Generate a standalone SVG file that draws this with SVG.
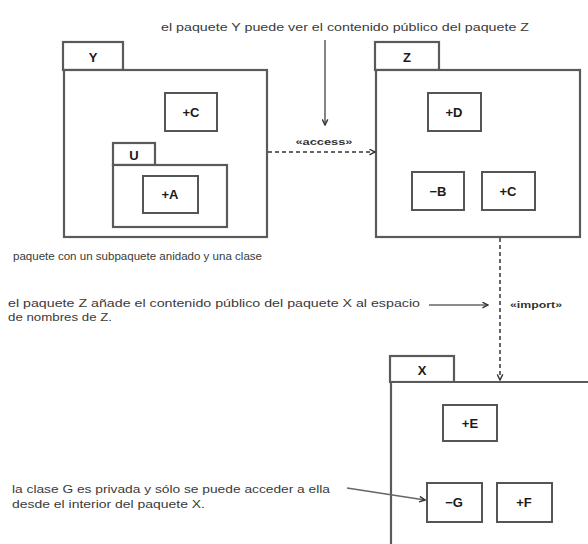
<svg xmlns="http://www.w3.org/2000/svg" width="588" height="544" viewBox="0 0 588 544">
  <defs>
    <marker id="open" viewBox="0 0 10 10" refX="9" refY="5" markerWidth="7" markerHeight="7" orient="auto" markerUnits="userSpaceOnUse">
      <path d="M1,1 L9,5 L1,9" fill="none" stroke="#333" stroke-width="2"/>
    </marker>
  </defs>
  <style>
    .pkg { fill: #fff; stroke: #5a5a5a; stroke-width: 2.2; }
    .cls { fill: #fff; stroke: #555; stroke-width: 2; }
    .name { font-family: "Liberation Sans", Arial, sans-serif; font-size: 13px; font-weight: bold; fill: #1a1a1a; text-anchor: middle; }
    .note { font-family: "Liberation Sans", Arial, sans-serif; font-size: 10.5px; fill: #3a3a3a; }
    .stereo { font-family: "Liberation Sans", Arial, sans-serif; font-size: 9px; font-weight: bold; fill: #333; text-anchor: middle; }
    .solid { fill: none; stroke: #666; stroke-width: 1.6; }
    .dash { fill: none; stroke: #666; stroke-width: 2; stroke-dasharray: 4 3; }
  </style>
  <rect width="588" height="544" fill="#fff"/>

  <!-- package Y with nested package U -->
  <g id="pkg-Y">
    <rect class="pkg" x="63" y="42" width="60" height="28"/>
    <rect class="pkg" x="64" y="70" width="203" height="167"/>
    <text class="name" x="93" y="62">Y</text>
  </g>
  <g id="class-Y-C">
    <rect class="cls" x="165" y="93" width="52" height="38"/>
    <text class="name" x="191" y="117">+C</text>
  </g>
  <g id="pkg-U">
    <rect class="pkg" x="113" y="143" width="42" height="22"/>
    <rect class="pkg" x="113" y="165" width="114" height="62"/>
    <text class="name" x="134" y="160">U</text>
  </g>
  <g id="class-U-A">
    <rect class="cls" x="143" y="176" width="55" height="37"/>
    <text class="name" x="170" y="199">+A</text>
  </g>

  <!-- package Z -->
  <g id="pkg-Z">
    <rect class="pkg" x="375" y="42" width="64" height="28"/>
    <rect class="pkg" x="376" y="70" width="204" height="167"/>
    <text class="name" x="407" y="62">Z</text>
  </g>
  <g id="class-Z-D">
    <rect class="cls" x="428" y="93" width="53" height="38"/>
    <text class="name" x="454" y="117">+D</text>
  </g>
  <g id="class-Z-B">
    <rect class="cls" x="412" y="172" width="52" height="38"/>
    <text class="name" x="438" y="196">−B</text>
  </g>
  <g id="class-Z-C">
    <rect class="cls" x="482" y="172" width="53" height="38"/>
    <text class="name" x="508" y="196">+C</text>
  </g>

  <!-- package X (runs off the right and bottom edges) -->
  <g id="pkg-X">
    <rect class="pkg" x="390" y="356" width="64" height="26"/>
    <path class="pkg" d="M600,382 L391,382 L391,560"/>
    <text class="name" x="422" y="375">X</text>
  </g>
  <g id="class-X-E">
    <rect class="cls" x="443" y="405" width="54" height="36"/>
    <text class="name" x="470" y="428">+E</text>
  </g>
  <g id="class-X-G">
    <rect class="cls" x="427" y="483" width="55" height="39"/>
    <text class="name" x="454" y="507">−G</text>
  </g>
  <g id="class-X-F">
    <rect class="cls" x="497" y="483" width="55" height="39"/>
    <text class="name" x="524" y="507">+F</text>
  </g>

  <!-- notes -->
  <g id="notes">
    <text class="note" x="161" y="31" textLength="368" lengthAdjust="spacingAndGlyphs">el paquete Y puede ver el contenido público del paquete Z</text>
    <text class="note" x="13" y="260" textLength="249" lengthAdjust="spacingAndGlyphs">paquete con un subpaquete anidado y una clase</text>
    <text class="note" x="8" y="307" textLength="412" lengthAdjust="spacingAndGlyphs">el paquete Z añade el contenido público del paquete X al espacio</text>
    <text class="note" x="8" y="321" textLength="104" lengthAdjust="spacingAndGlyphs">de nombres de Z.</text>
    <text class="note" x="12" y="493" textLength="318" lengthAdjust="spacingAndGlyphs">la clase G es privada y sólo se puede acceder a ella</text>
    <text class="note" x="12" y="508" textLength="193" lengthAdjust="spacingAndGlyphs">desde el interior del paquete X.</text>
  </g>

  <!-- connectors -->
  <g id="connectors">
    <path class="solid" d="M325,40 L325,125" marker-end="url(#open)"/>
    <text class="stereo" x="324" y="145" textLength="57" lengthAdjust="spacingAndGlyphs">«access»</text>
    <path class="dash" d="M268,152 L375,152" marker-end="url(#open)"/>
    <path class="dash" d="M500,238 L500,380" marker-end="url(#open)"/>
    <path class="solid" d="M429,305 L488,305" marker-end="url(#open)"/>
    <text class="stereo" x="536" y="308" textLength="52" lengthAdjust="spacingAndGlyphs">«import»</text>
    <path class="solid" d="M347,488 L425,500" marker-end="url(#open)"/>
  </g>
</svg>
